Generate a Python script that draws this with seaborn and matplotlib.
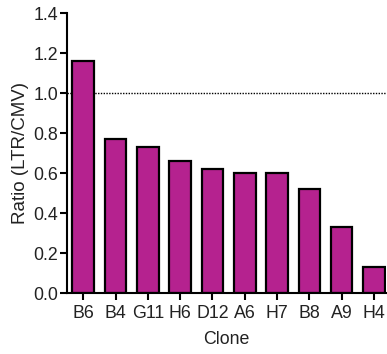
import matplotlib
matplotlib.use("Agg")
import matplotlib.pyplot as plt
import seaborn as sns
import pandas as pd

clones = ["B6", "B4", "G11", "H6", "D12", "A6", "H7", "B8", "A9", "H4"]
ratios = [1.16, 0.77, 0.73, 0.66, 0.62, 0.60, 0.60, 0.52, 0.33, 0.13]
y_ticks = [0.0, 0.2, 0.4, 0.6, 0.8, 1.0, 1.2, 1.4]

df = pd.DataFrame({"Clone": clones, "Ratio": ratios})

sns.set_style("ticks")
plt.rcParams["font.family"] = ["Liberation Sans", "DejaVu Sans"]

fig = plt.figure(figsize=(3.87, 3.54), dpi=100)
ax = fig.add_axes([0.172, 0.171, 0.826, 0.791])

sns.barplot(data=df, x="Clone", y="Ratio", order=clones, color="#B5228F",
            saturation=1, width=0.67, edgecolor="black", linewidth=1.6, ax=ax)

ax.axhline(1.0, color="black", linestyle=(0, (1, 1)), linewidth=1.0, zorder=0)

ax.set_ylim(0, 1.4)
ax.set_xlim(-0.515, 9.38)
ax.set_yticks(y_ticks)
ax.set_yticklabels([f"{v:.1f}" for v in y_ticks])
ax.set_xlabel("Clone", fontsize=12.8, color="#222222", labelpad=7)
ax.set_ylabel("Ratio (LTR/CMV)", fontsize=13.5, color="#222222", labelpad=3)
ax.tick_params(axis="both", labelsize=12.8, labelcolor="#222222", width=1.5,
               length=5, direction="out", color="black")
ax.tick_params(axis="y", pad=1)
ax.tick_params(axis="x", pad=3)

for side in ["top", "right"]:
    ax.spines[side].set_visible(False)
for side in ["left", "bottom"]:
    ax.spines[side].set_linewidth(1.5)
    ax.spines[side].set_color("black")

fig.savefig("out.png", dpi=100)
